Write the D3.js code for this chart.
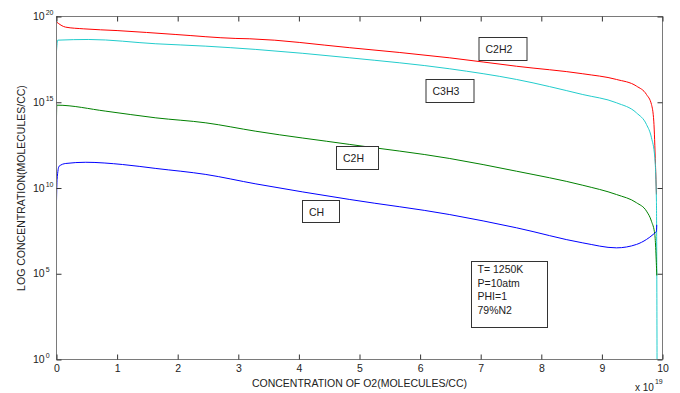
<!DOCTYPE html>
<html><head><meta charset="utf-8">
<script src="https://cdn.jsdelivr.net/npm/d3@7"></script>
<style>
html,body{margin:0;padding:0;background:#fff;}
svg{display:block;font-family:"Liberation Sans",Arial,sans-serif;}
</style></head>
<body>
<svg id="chart" width="680" height="393"></svg>
<script>
// O2 concentration (x 1e19 molecules/cc) and log10 concentrations
const c2h2X = [0, 0.15, 0.45, 1.0, 1.97, 2.96, 3.19, 4.84, 6.49, 7.59, 8.685, 9.24, 9.571, 9.736, 9.818, 9.856, 9.884, 9.90];
const c2h2Y = [19.68, 19.38, 19.28, 19.18, 18.95, 18.72, 18.70, 18.18, 17.59, 17.10, 16.66, 16.33, 15.94, 15.45, 14.87, 13.90, 11.37, 9.62];

const c3h3X = [0, 0.02, 0.533, 1.639, 2.464, 3.289, 4.84, 6.49, 7.59, 8.685, 9.24, 9.571, 9.736, 9.818, 9.873, 9.90, 9.91];
const c3h3Y = [17.98, 18.62, 18.66, 18.41, 18.27, 18.08, 17.59, 16.95, 16.33, 15.45, 14.97, 14.38, 13.70, 12.93, 11.78, 9.23, 0];

const c2hX = [0, 0.005, 0.814, 1.639, 2.464, 3.289, 4.84, 6.49, 7.59, 8.685, 9.24, 9.571, 9.736, 9.818, 9.873, 9.906];
const c2hY = [14.11, 14.83, 14.48, 14.09, 13.80, 13.31, 12.54, 11.72, 10.98, 10.16, 9.62, 9.14, 8.65, 8.06, 7.29, 4.90];

const chX = [0, 0.01, 0.043, 0.153, 0.483, 1.089, 1.639, 2.464, 3.289, 4.84, 6.49, 7.59, 8.685, 9.24, 9.571, 9.736, 9.845, 9.90, 9.905];
const chY = [9.23, 10.5, 11.27, 11.43, 11.50, 11.37, 11.14, 10.79, 10.24, 9.33, 8.45, 7.68, 6.80, 6.51, 6.71, 7.00, 7.29, 7.48, 7.85];

const xTicks = [0,1,2,3,4,5,6,7,8,9,10];
const yTickExps = [0,5,10,15,20];
const infoLines = ["T= 1250K", "P=10atm", "PHI=1", "79%N2"];

const series = [
  {name:"C2H2", xs:c2h2X, ys:c2h2Y, color:"#ff0000"},
  {name:"C3H3", xs:c3h3X, ys:c3h3Y, color:"#22cccc"},
  {name:"C2H",  xs:c2hX,  ys:c2hY,  color:"#008000"},
  {name:"CH",   xs:chX,   ys:chY,   color:"#0000ff"}
];

const L = 56.5, R = 662.5, T = 16.5, B = 359.5;
const svg = d3.select("#chart");
const x = d3.scaleLinear().domain([0,10]).range([L,R]);
const y = d3.scaleLog().domain([1,1e20]).range([B,T]);

svg.append("defs").append("clipPath").attr("id","clip")
  .append("rect").attr("x",L).attr("y",T).attr("width",R-L).attr("height",B-T);

// lines
const line = d3.line().curve(d3.curveMonotoneX).x(d=>x(d[0])).y(d=>y(Math.pow(10,d[1])));
const g = svg.append("g").attr("clip-path","url(#clip)");
series.forEach(s=>{
  const pts = s.xs.map((v,i)=>[v,s.ys[i]]);
  g.append("path").attr("d",line(pts)).attr("fill","none")
   .attr("stroke",s.color).attr("stroke-width",1);
});

// box
svg.append("rect").attr("x",L).attr("y",T).attr("width",R-L).attr("height",B-T)
  .attr("fill","none").attr("stroke","#7a7a7a").attr("stroke-width",1);

// axes (ticks inward)
const tl = 5;
svg.append("g").attr("transform",`translate(0,${B})`)
  .call(d3.axisBottom(x).tickValues(xTicks).tickSizeInner(-tl).tickSizeOuter(0).tickPadding(5).tickFormat(d3.format("d")))
  .call(a=>a.select(".domain").remove())
  .call(a=>a.selectAll("line").attr("stroke","#333"))
  .call(a=>a.selectAll("text").attr("font-size","10.5px").attr("fill","#222").attr("font-family","Liberation Sans, Arial, sans-serif"));
svg.append("g").attr("transform",`translate(0,${T})`)
  .call(d3.axisTop(x).tickValues(xTicks).tickSizeInner(-tl).tickSizeOuter(0).tickFormat(""))
  .call(a=>a.select(".domain").remove())
  .call(a=>a.selectAll("line").attr("stroke","#333"));

const yVals = yTickExps.map(e=>Math.pow(10,e));
svg.append("g").attr("transform",`translate(${L},0)`)
  .call(d3.axisLeft(y).tickValues(yVals).tickSizeInner(-tl).tickSizeOuter(0).tickFormat(""))
  .call(a=>a.select(".domain").remove())
  .call(a=>a.selectAll("line").attr("stroke","#333"));
svg.append("g").attr("transform",`translate(${R},0)`)
  .call(d3.axisRight(y).tickValues(yVals).tickSizeInner(-tl).tickSizeOuter(0).tickFormat(""))
  .call(a=>a.select(".domain").remove())
  .call(a=>a.selectAll("line").attr("stroke","#333"));

// y tick labels 10^n
yTickExps.forEach(e=>{
  const t = svg.append("text").attr("x",33).attr("y",y(Math.pow(10,e))+3.5)
    .attr("font-size","10.5px").attr("fill","#222");
  t.append("tspan").text("10");
  t.append("tspan").attr("font-size","7px").attr("dx",1).attr("dy",-5).text(e);
});

// axis titles
svg.append("text").attr("x",(L+R)/2).attr("y",387).attr("text-anchor","middle")
  .attr("font-size","10.5px").attr("fill","#222").text("CONCENTRATION OF O2(MOLECULES/CC)");
svg.append("text").attr("transform",`translate(25,${(T+B)/2}) rotate(-90)`).attr("text-anchor","middle")
  .attr("font-size","10.5px").attr("fill","#222").text("LOG CONCENTRATION(MOLECULES/CC)");
const ex = svg.append("text").attr("x",635).attr("y",391).attr("font-size","10px").attr("fill","#222");
ex.append("tspan").text("x 10");
ex.append("tspan").attr("font-size","7px").attr("dx",1).attr("dy",-7).text("19");

// label boxes
const boxes = [
  {text:"C2H2", x:479, y:37.5, w:48, h:23},
  {text:"C3H3", x:426, y:79.5, w:48, h:23},
  {text:"C2H",  x:336.5, y:146.5, w:42, h:23},
  {text:"CH",   x:302.5, y:200.5, w:37, h:22}
];
boxes.forEach(b=>{
  svg.append("rect").attr("x",b.x).attr("y",b.y).attr("width",b.w).attr("height",b.h)
    .attr("fill","#fff").attr("stroke","#333").attr("stroke-width",1);
  svg.append("text").attr("x",b.x+6.5).attr("y",b.y+15).attr("font-size","10.5px")
    .attr("fill","#222").text(b.text);
});

// info box
svg.append("rect").attr("x",471.5).attr("y",261.5).attr("width",76).attr("height",66)
  .attr("fill","#fff").attr("stroke","#333").attr("stroke-width",1);
infoLines.forEach((s,i)=>{
  svg.append("text").attr("x",477.5).attr("y",273+i*13.6).attr("font-size","10.5px")
    .attr("fill","#222").text(s);
});
</script>
</body></html>
